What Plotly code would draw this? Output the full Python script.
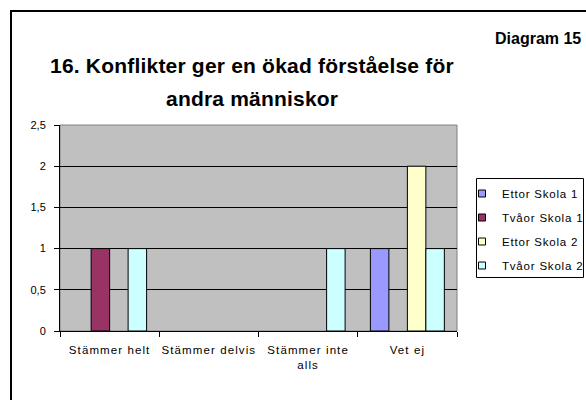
import plotly.graph_objects as go

categories = ["Stämmer helt", "Stämmer delvis", "Stämmer inte alls", "Vet ej"]
category_labels = ["Stämmer helt", "Stämmer delvis", "Stämmer inte<br>alls", "Vet ej"]
series_names = ["Ettor Skola 1", "Tvåor Skola 1", "Ettor Skola 2", "Tvåor Skola 2"]
ettor_skola1 = [0, 0, 0, 1]
tvaor_skola1 = [1, 0, 0, 0]
ettor_skola2 = [0, 0, 0, 2]
tvaor_skola2 = [1, 0, 1, 1]
y_tickvals = [0, 0.5, 1, 1.5, 2, 2.5]
y_ticktext = ["0", "0,5", "1", "1,5", "2", "2,5"]
colors = ["#9999FF", "#993366", "#FFFFCC", "#CCFFFF"]

FONT = "Liberation Sans, Arial, sans-serif"
series_values = [ettor_skola1, tvaor_skola1, ettor_skola2, tvaor_skola2]

W, H = 586, 400


def spaced(t, px_):
    return "<span style='letter-spacing:%spx'>%s</span>" % (px_, t)


fig = go.Figure()
for name, vals, col in zip(series_names, series_values, colors):
    fig.add_trace(go.Bar(
        x=categories, y=vals, name=name, marker_color=col,
        marker_line_color="black", marker_line_width=[1 if v else 0 for v in vals],
        showlegend=False,
    ))
for i, (name, col) in enumerate(zip(series_names, colors)):
    fig.add_trace(go.Scatter(
        x=[categories[0]], y=[None], mode="markers", name=spaced(name, 0.8),
        marker=dict(symbol="square", size=7, color=col, line=dict(color="black", width=1)),
        legendgroup="g%d" % i, showlegend=True,
    ))

# screen pixel -> paper helpers (plot area x 60..457, y 125..331)
L, R, T, B = 60, 457, 125, 331
def px(x):
    return (x - L) / (R - L)
def py(y):
    return (B - y) / (B - T)

fig.update_layout(
    width=W, height=H, autosize=False,
    margin=dict(l=L, r=W - R, t=T, b=H - B, autoexpand=False),
    paper_bgcolor="white", plot_bgcolor="#C0C0C0",
    barmode="group", bargap=0.255, bargroupgap=0,
    font=dict(family=FONT, size=11, color="black"),
    showlegend=True,
    legend=dict(x=px(462), y=py(179), xanchor="left", yanchor="top",
                bgcolor="rgba(0,0,0,0)", borderwidth=0,
                font=dict(family=FONT, size=11.5, color="black"),
                tracegroupgap=5, itemwidth=30),
    xaxis=dict(type="category", tickvals=categories,
               ticktext=[spaced(t, 1.1) for t in category_labels],
               tickangle=0, automargin=False,
               tickson="boundaries", ticks="outside", ticklen=5, tickcolor="black",
               showline=True, linecolor="black", linewidth=1, showgrid=False,
               ticklabelstandoff=8,
               tickfont=dict(family=FONT, size=11.5, color="black"), fixedrange=True),
    yaxis=dict(range=[0, 2.5], tickvals=y_tickvals, ticktext=y_ticktext, automargin=False,
               ticks="outside", ticklen=5, tickcolor="black",
               showline=True, linecolor="black", linewidth=1,
               showgrid=True, gridcolor="black", gridwidth=1, zeroline=False,
               tickfont=dict(family=FONT, size=11, color="black"), ticklabelstandoff=6),
    shapes=[
        dict(type="rect", xref="paper", yref="paper", x0=px(11), x1=px(620), y0=py(420), y1=py(11),
             line=dict(color="black", width=2), fillcolor="rgba(0,0,0,0)"),
        dict(type="rect", xref="paper", yref="paper", x0=0, x1=1, y0=0, y1=1,
             line=dict(color="#808080", width=1), fillcolor="rgba(0,0,0,0)", layer="below"),
        dict(type="rect", xref="paper", yref="paper", x0=px(476.5), x1=px(583.5), y0=py(277.5), y1=py(178.5),
             line=dict(color="black", width=1), fillcolor="rgba(0,0,0,0)"),
    ],
    annotations=[
        dict(text="<b>" + spaced("16. Konflikter ger en ökad förståelse för", 0.2) + "</b>",
             xref="paper", yref="paper",
             x=px(252), y=py(66), showarrow=False, xanchor="center", yanchor="middle",
             font=dict(family=FONT, size=21, color="black")),
        dict(text="<b>" + spaced("andra människor", 0.2) + "</b>", xref="paper", yref="paper",
             x=px(252), y=py(98), showarrow=False, xanchor="center", yanchor="middle",
             font=dict(family=FONT, size=21, color="black")),
        dict(text="<b>Diagram 15</b>", xref="paper", yref="paper",
             x=px(538), y=py(39), showarrow=False, xanchor="center", yanchor="middle",
             font=dict(family=FONT, size=16, color="black")),
    ],
)

fig.write_html(
    "out.html",
    config={"responsive": False, "displayModeBar": False},
    post_script="document.body.style.margin='0';",
)
